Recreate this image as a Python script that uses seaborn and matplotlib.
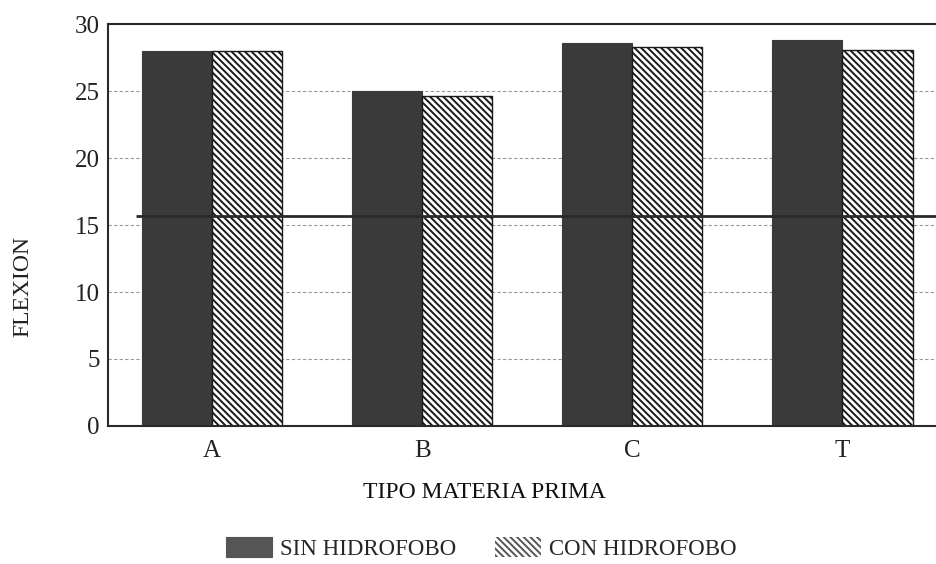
import matplotlib
matplotlib.use("Agg")
import matplotlib.pyplot as plt
import seaborn as sns
import pandas as pd

categories = ["A", "B", "C", "T"]
sin_hidrofobo = [28.0, 25.0, 28.6, 28.8]
con_hidrofobo = [28.0, 24.6, 28.3, 28.05]
series_names = ["SIN HIDROFOBO", "CON HIDROFOBO"]
ref_line = 15.65
y_ticks = [0, 5, 10, 15, 20, 25, 30]

sns.set_theme(style="white")
plt.rcParams["font.family"] = ["Liberation Serif", "DejaVu Serif"]
plt.rcParams["hatch.linewidth"] = 1.4
plt.rcParams["hatch.color"] = "#1a1a1a"

df = pd.DataFrame({
    "tipo": categories * 2,
    "valor": sin_hidrofobo + con_hidrofobo,
    "serie": [series_names[0]] * 4 + [series_names[1]] * 4,
})

fig = plt.figure(figsize=(9.37, 5.64), dpi=100)
ax = fig.add_axes([0.1153, 0.2447, 0.8847, 0.7127])

sns.barplot(data=df, x="tipo", y="valor", hue="serie", order=categories,
            hue_order=series_names, palette=["#3a3a3a", "white"],
            width=0.667, saturation=1, ax=ax, legend=False, zorder=2)

for bar in ax.containers[0]:
    bar.set_edgecolor("#3a3a3a")
    bar.set_linewidth(0.8)
for bar in ax.containers[1]:
    bar.set_hatch("\\\\\\\\\\")
    bar.set_edgecolor("#1a1a1a")
    bar.set_linewidth(1.0)

ax.set_xlim(-0.495, 3.45)
ax.set_ylim(0, 30)
ax.set_yticks(y_ticks)
ax.set_yticklabels([str(t) for t in y_ticks], fontsize=18, color="#222222")
ax.tick_params(axis="x", labelsize=18, pad=10, length=0, labelcolor="#222222")
ax.tick_params(axis="y", pad=6, length=0)

for t in y_ticks[1:-1]:
    ax.axhline(t, color="#9a9a9a", lw=0.8, ls=(0, (3, 2)), zorder=0.5)

ax.plot([-0.36, 3.5], [ref_line, ref_line], color="#2a2a2a", lw=2.0,
        zorder=5, solid_capstyle="butt", clip_on=False)

for s in ["left", "bottom", "top"]:
    ax.spines[s].set_visible(True)
    ax.spines[s].set_color("#2a2a2a")
    ax.spines[s].set_linewidth(1.5)
ax.spines["right"].set_visible(False)

ax.set_xlabel("TIPO MATERIA PRIMA", fontsize=17, color="#111111")
ax.set_ylabel("FLEXION", fontsize=17, color="#222222")
ax.xaxis.set_label_coords(0.4535, -0.14)
ax.yaxis.set_label_coords(-0.09, 0.346)

handles = [ax.containers[0][0], ax.containers[1][0]]
leg = fig.legend(handles, series_names, loc="center", bbox_to_anchor=(0.514, 0.028),
                 ncol=2, frameon=False, fontsize=16.5, handlelength=2.0,
                 handleheight=1.0, handletextpad=0.35, columnspacing=1.7)
leg.legend_handles[0].set_facecolor("#555555")
leg.legend_handles[0].set_edgecolor("#555555")
leg.legend_handles[1].set_edgecolor("#555555")
leg.legend_handles[1].set_linewidth(0.0)

fig.savefig("out.png", dpi=100, facecolor="white")
